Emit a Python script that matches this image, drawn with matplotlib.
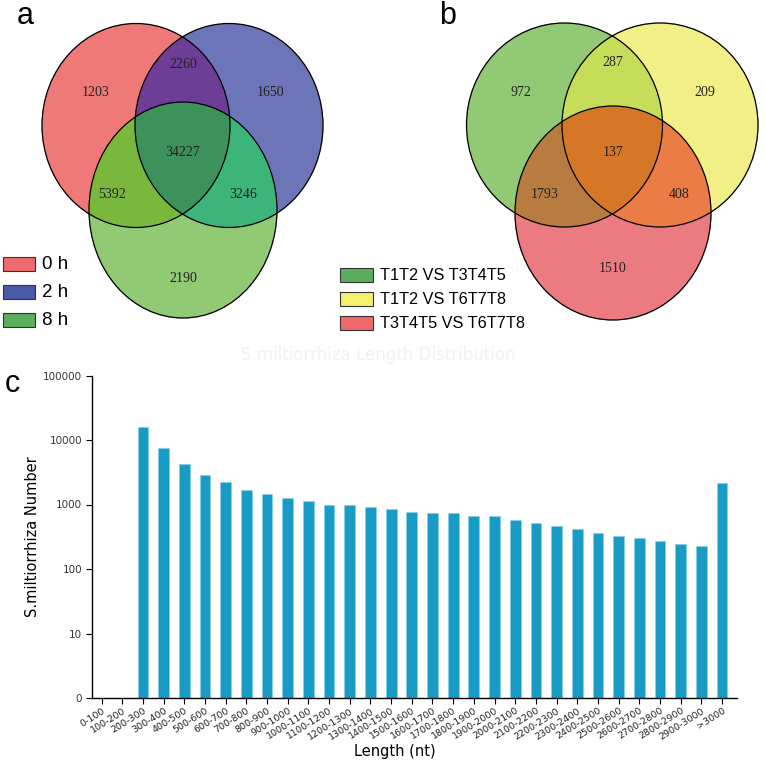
import numpy as np
import matplotlib
matplotlib.use('Agg')
import matplotlib.pyplot as plt
from matplotlib.patches import Ellipse, Rectangle

NARROW = ['Liberation Sans', 'DejaVu Sans']
SERIF = ['Liberation Serif', 'DejaVu Serif']

# panel a: venn of 0 h / 2 h / 8 h
A_NAMES = ['0 h', '2 h', '8 h']
A_LEGEND_COLORS = ['#ee6a6c', '#4b5aa8', '#5aad5c']
# region order: only1, only2, only3, 1&2, 1&3, 2&3, all
A_COUNTS = [1203, 1650, 2190, 2260, 5392, 3246, 34227]
A_REGION_COLORS = ['#f07a7a', '#6c76b8', '#92c976', '#6e3e96',
                   '#7ab83e', '#3eb57a', '#3e915a']

# panel b
B_NAMES = ['T1T2 VS T3T4T5', 'T1T2 VS T6T7T8', 'T3T4T5 VS T6T7T8']
B_LEGEND_COLORS = ['#5aad5c', '#f5f06e', '#ee6a6c']
B_COUNTS = [972, 209, 1510, 287, 1793, 408, 137]
B_REGION_COLORS = ['#92c976', '#f3f087', '#ec7c80', '#c6de58',
                   '#b97d41', '#ec7d46', '#d67828']

# panel c: length distribution
LENGTHS = ['0-100', '100-200', '200-300', '300-400', '400-500', '500-600',
           '600-700', '700-800', '800-900', '900-1000', '1000-1100',
           '1100-1200', '1200-1300', '1300-1400', '1400-1500', '1500-1600',
           '1600-1700', '1700-1800', '1800-1900', '1900-2000', '2000-2100',
           '2100-2200', '2200-2300', '2300-2400', '2400-2500', '2500-2600',
           '2600-2700', '2700-2800', '2800-2900', '2900-3000', '>3000']
COUNTS = [0, 0, 16100, 7600, 4300, 2900, 2250, 1700, 1450, 1250, 1140,
          980, 970, 910, 840, 770, 740, 740, 660, 660, 570,
          520, 460, 410, 365, 320, 300, 270, 240, 225, 2180]
Y_TICKS = [1, 10, 100, 1000, 10000, 100000]
Y_TICK_LABELS = ['0', '10', '100', '1000', '10000', '100000']

W, H = 765, 760
fig = plt.figure(figsize=(W / 100, H / 100), dpi=100)

# overlay axes in pixel coordinates for the two venn panels
ov = fig.add_axes([0, 0, 1, 1])
ov.set_xlim(0, W)
ov.set_ylim(H, 0)
ov.axis('off')

# ellipse geometry (cx, cy, rx, ry) in pixels
A_GEOM = [(136, 125.5, 94, 102), (229, 125.5, 94, 102), (183, 210, 94, 108)]
B_GEOM = [(564.5, 125, 98, 102), (660, 125, 98, 102), (613, 213, 98, 107)]
A_TEXT = [(96, 92), (271, 92), (183, 278), (183, 64), (112, 195), (243, 195), (183, 152)]
B_TEXT = [(521, 92), (705, 92), (613, 269), (613, 63), (545, 195), (679, 195), (613, 152)]


def hex_rgb(h):
    return [int(h[i:i + 2], 16) / 255 for i in (1, 3, 5)]


res = 2
gx, gy = np.meshgrid(np.arange(0, W, 1 / res) + 0.25, np.arange(0, 340, 1 / res) + 0.25)
img = np.zeros(gx.shape + (4,))


def paint(geom, colors):
    m = [((gx - cx) / rx) ** 2 + ((gy - cy) / ry) ** 2 <= 1 for cx, cy, rx, ry in geom]
    a, b, c = m
    regions = [a & ~b & ~c, b & ~a & ~c, c & ~a & ~b,
               a & b & ~c, a & c & ~b, b & c & ~a, a & b & c]
    for reg, col in zip(regions, colors):
        img[reg, :3] = hex_rgb(col)
        img[reg, 3] = 1


paint(A_GEOM, A_REGION_COLORS)
paint(B_GEOM, B_REGION_COLORS)
ov.imshow(img, extent=(0, W, 340, 0), interpolation='bilinear', zorder=1)

for geom, counts, pos in [(A_GEOM, A_COUNTS, A_TEXT), (B_GEOM, B_COUNTS, B_TEXT)]:
    for cx, cy, rx, ry in geom:
        ov.add_patch(Ellipse((cx, cy), 2 * rx, 2 * ry, fill=False,
                             edgecolor='black', linewidth=0.9, zorder=2))
    for (tx, ty), n in zip(pos, counts):
        ov.text(tx, ty, str(n), ha='center', va='center', fontsize=10,
                family=SERIF, color='#222222', zorder=3)

# legends
for i, (name, col) in enumerate(zip(A_NAMES, A_LEGEND_COLORS)):
    y = 264 + i * 28
    ov.add_patch(Rectangle((3, y - 7), 32, 14, facecolor=col,
                           edgecolor='#333333', linewidth=0.8, zorder=3))
    ov.text(42, y + 0.5, name, ha='left', va='center', fontsize=13.5,
            family=NARROW, zorder=3)
for i, (name, col) in enumerate(zip(B_NAMES, B_LEGEND_COLORS)):
    y = 275 + i * 24
    ov.add_patch(Rectangle((340, y - 7), 33, 14, facecolor=col,
                           edgecolor='#333333', linewidth=0.8, zorder=3))
    ov.text(380, y + 0.5, name, ha='left', va='center', fontsize=11.7,
            family=NARROW, zorder=3)

ov.text(25, 16, 'a', ha='center', va='center', fontsize=22, family=NARROW)
ov.text(448, 16, 'b', ha='center', va='center', fontsize=22, family=NARROW)
ov.text(12, 384, 'c', ha='center', va='center', fontsize=22, family=NARROW)
ov.text(378, 355, 'S.miltiorrhiza Length Distribution', ha='center',
        va='center', fontsize=12, color='#f2f2f2', zorder=0)

# panel c bar chart
ax = fig.add_axes([92 / W, 1 - 698 / H, (737 - 92) / W, (698 - 375.5) / H])
x = np.arange(len(LENGTHS))
vals = np.array(COUNTS, dtype=float)
vals[vals <= 0] = np.nan
ax.bar(x, vals, width=0.52, color='#189cc6', edgecolor='#7fd0ea', linewidth=0.4)
ax.set_yscale('log')
ax.set_ylim(1, 100000)
ax.set_xlim(-0.46, 30.72)
ax.set_yticks(Y_TICKS)
ax.set_yticklabels(Y_TICK_LABELS)
ax.minorticks_off()
ax.set_xticks(x)
ax.set_xticklabels(LENGTHS, rotation=32, ha='right', rotation_mode='anchor')
ax.tick_params(axis='y', labelsize=7.5, length=4, width=0.8, labelcolor='#333333', pad=3)
ax.tick_params(axis='x', labelsize=6.8, length=4, width=0.8, labelcolor='#222222', pad=2)
for s in ['top', 'right']:
    ax.spines[s].set_visible(False)
ax.spines['left'].set_linewidth(1)
ax.spines['bottom'].set_linewidth(1)
ax.set_ylabel('S.miltiorrhiza Number', fontsize=10.5, va='center')
ax.yaxis.set_label_coords(-0.093, 0.5)
ax.set_xlabel('Length (nt)', fontsize=10.5, va='center')
ax.xaxis.set_label_coords(0.47, -0.166)
ax.patch.set_alpha(0)

fig.savefig('out.png', dpi=100)
